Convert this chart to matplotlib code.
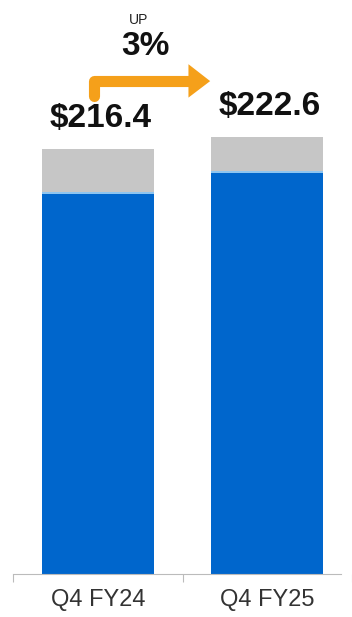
import matplotlib
matplotlib.use("Agg")
from matplotlib import pyplot as plt
from matplotlib.patches import Polygon

plt.rcParams['font.family'] = ['Liberation Sans', 'DejaVu Sans']

# quarterly values, $ millions
quarters = ['Q4 FY24', 'Q4 FY25']
base = [193.5, 204.2]
other = [22.9, 18.4]
totals = [216.4, 222.6]
growth = '3%'

blue = '#0066CC'
grey = '#C6C6C6'
orange = '#F5A01A'

fig = plt.figure(figsize=(3.52, 6.17), dpi=100)
ax = fig.add_axes([0, 43 / 617, 1, 574 / 617])

x = list(range(len(quarters)))
ax.bar(x, base, width=0.663, color=blue)
ax.bar(x, other, bottom=base, width=0.663, color=grey)
# thin light line where blue meets grey
ax.bar(x, 0.8, bottom=base, width=0.663, color='#8EC5F0')

ax.set_ylim(0, 292.3)
ax.set_xlim(-0.577, 1.434)

for xi, t in zip(x, totals):
    ax.text(xi + 0.015, t + 15.5, '${:.1f}'.format(t), ha='center', va='center',
            fontsize=24, fontweight='bold', color='#111111')

# growth arrow from first bar to second
ya = totals[0] + 27
yh = totals[0] + 34.6
ax.plot([x[0] - 0.02, x[0] - 0.02, 0.545], [ya, yh, yh], color=orange,
        lw=8, solid_capstyle='round', solid_joinstyle='round')
ax.add_patch(Polygon([[0.535, yh + 8.6], [0.663, yh], [0.535, yh - 8.4]],
                     closed=True, color=orange, lw=0))
ax.text(0.28, totals[0] + 52, growth, ha='center', va='center', fontsize=24,
        fontweight='bold', color='#111111')
ax.text(0.24, totals[0] + 65.5, 'UP', ha='center', va='center', fontsize=10,
        color='#222222')

for s in ['top', 'right', 'left']:
    ax.spines[s].set_visible(False)
ax.spines['bottom'].set_color('#BBBBBB')
ax.spines['bottom'].set_bounds(-0.5, 1.434)
ax.set_yticks([])
ax.set_xticks([-0.5, 0.5, 1.5])
ax.set_xticklabels([])
ax.set_xticks(x, minor=True)
ax.set_xticklabels(quarters, minor=True, fontsize=17, color='#333333')
ax.tick_params(axis='x', which='major', length=6, color='#BBBBBB')
ax.tick_params(axis='x', which='minor', length=0, pad=10.5)

fig.savefig('out.png', dpi=100)
